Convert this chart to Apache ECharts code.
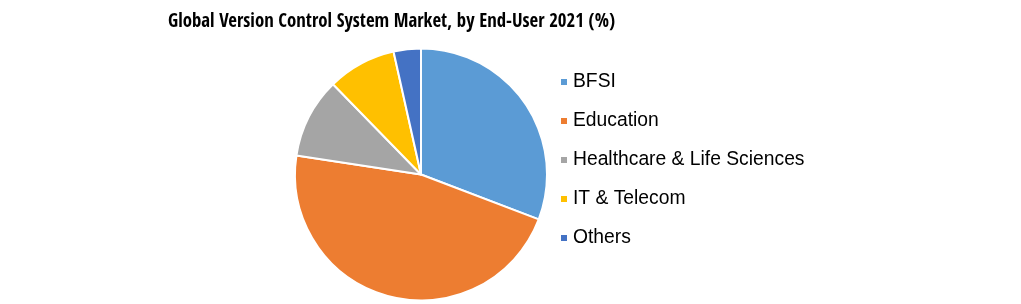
<!DOCTYPE html>
<html><head><meta charset="utf-8">
<script src="https://cdn.jsdelivr.net/npm/echarts@6/dist/echarts.min.js"></script>
<style>html,body{margin:0;padding:0;background:#fff}#c{width:1021px;height:304px}</style>
</head><body><div id="c"></div>
<script>
const categories = ['BFSI', 'Education', 'Healthcare & Life Sciences', 'IT & Telecom', 'Others'];
const values = [30.8, 46.6, 10.3, 8.8, 3.5];
const colors = ['#5B9BD5', '#ED7D31', '#A5A5A5', '#FFC000', '#4472C4'];

const chart = echarts.init(document.getElementById('c'), null, {renderer: 'canvas'});
chart.setOption({
  animation: false,
  title: {
    text: 'Global Version Control System Market, by End-User 2021 (%)',
    left: 386.5, top: 8, textAlign: 'center',
    textStyle: {fontFamily: '"Liberation Sans Narrow", "Open Sans Condensed", "Liberation Sans"', fontWeight: 'bold', fontSize: 18.8, color: '#000'}
  },
  legend: {
    orient: 'vertical', left: 559, top: 72.5, padding: 0,
    icon: 'rect', itemWidth: 8, itemHeight: 8, itemGap: 20,
    data: categories,
    textStyle: {fontFamily: 'Liberation Sans', fontSize: 19.3, color: '#000'}
  },
  series: [{
    type: 'pie',
    center: [421, 174.5], radius: 126,
    startAngle: 90, clockwise: true,
    label: {show: false}, labelLine: {show: false},
    itemStyle: {borderColor: '#fff', borderWidth: 2},
    data: categories.map((n, i) => ({name: n, value: values[i], itemStyle: {color: colors[i]}}))
  }]
});
</script></body></html>
